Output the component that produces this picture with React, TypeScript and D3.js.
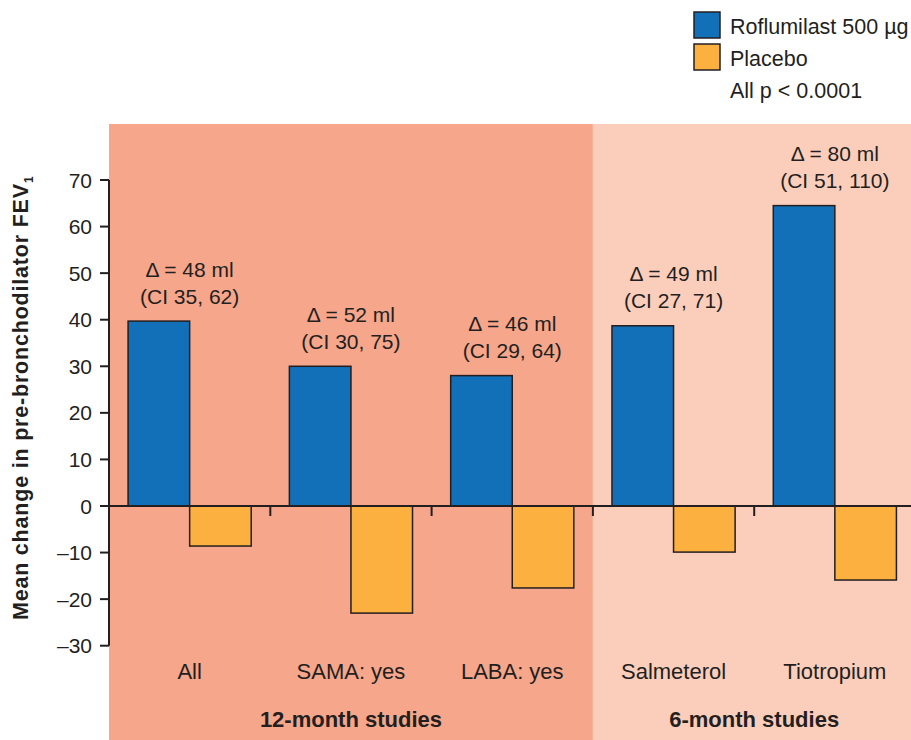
import React from "react";
import * as d3 from "d3";

const categories = ["All", "SAMA: yes", "LABA: yes", "Salmeterol", "Tiotropium"];
const series = ["Roflumilast 500 µg", "Placebo"];
const roflumilast = [39.7, 30, 28, 38.7, 64.5];
const placebo = [-8.6, -23, -17.6, -9.9, -15.9];
const deltaLabels = ["Δ = 48 ml", "Δ = 52 ml", "Δ = 46 ml", "Δ = 49 ml", "Δ = 80 ml"];
const ciLabels = ["(CI 35, 62)", "(CI 30, 75)", "(CI 29, 64)", "(CI 27, 71)", "(CI 51, 110)"];
const studyGroups = ["12-month studies", "6-month studies"];
const studyGroupSpans = [[0, 3], [3, 5]];
const yTicks = [-30, -20, -10, 0, 10, 20, 30, 40, 50, 60, 70];

const W = 911;
const H = 740;
const colors = ["#1170B8", "#FBB040"];
const bgColors = ["#F6A68B", "#FBCEBC"];
const ink = "#231F20";
const font = "'Liberation Sans', Arial, Helvetica, sans-serif";

export default function App() {
  const x0 = d3.scaleBand<string>().domain(categories).range([109, 109 + 161.3 * 5]).paddingInner(0).paddingOuter(0);
  const x1 = d3.scaleBand<string>().domain(series).range([0, x0.bandwidth()]).paddingOuter(0.31).paddingInner(0);
  const y = d3.scaleLinear().domain([-30, 70]).range([645.7, 180]);
  const values = [roflumilast, placebo];
  const y0 = y(0);

  return (
    <svg width={W} height={H} style={{ position: "absolute", left: 0, top: 0, background: "#fff" }} fontFamily={font}>
      {studyGroupSpans.map((s, i) => {
        const xs = x0(categories[s[0]])!;
        const xe = s[1] >= categories.length ? W : x0(categories[s[1]])!;
        return <rect key={"bg" + i} x={xs} y={124} width={xe - xs} height={H - 124} fill={bgColors[i]} />;
      })}
      {categories.map((c, i) =>
        series.map((s, j) => {
          const v = values[j][i];
          const bx = x0(c)! + x1(s)!;
          return (
            <rect
              key={c + s}
              x={bx}
              y={Math.min(y(v), y0)}
              width={x1.bandwidth()}
              height={Math.abs(y(v) - y0)}
              fill={colors[j]}
              stroke={ink}
              strokeWidth={1.5}
            />
          );
        })
      )}
      <line x1={109} x2={W} y1={y0} y2={y0} stroke={ink} strokeWidth={2} />
      {categories.slice(1).map((c) => (
        <line key={"t" + c} x1={x0(c)!} x2={x0(c)!} y1={y0} y2={y0 + 10} stroke={ink} strokeWidth={2} />
      ))}
      <line x1={109} x2={109} y1={y(70)} y2={y(-30)} stroke={ink} strokeWidth={2} />
      {yTicks.map((t) => (
        <g key={"y" + t}>
          <line x1={100} x2={109} y1={y(t)} y2={y(t)} stroke={ink} strokeWidth={2} />
          <text x={92} y={y(t)} dy="0.36em" textAnchor="end" fontSize={21} fill={ink}>
            {t < 0 ? "\u2013" + Math.abs(t) : t}
          </text>
        </g>
      ))}
      <text
        transform={`translate(28, ${(y(70) + y(-30)) / 2 - 15}) rotate(-90)`}
        textAnchor="middle"
        fontSize={21.5}
        fontWeight="bold"
        letterSpacing={0.8}
        fill={ink}
      >
        Mean change in pre-bronchodilator FEV
        <tspan fontSize={12} dy={5}>1</tspan>
      </text>
      {categories.map((c, i) => {
        const top = y(roflumilast[i]);
        const cx = x0(c)! + x0.bandwidth() / 2;
        return (
          <g key={"a" + c}>
            <text x={cx} y={top - 52} dy="0.36em" textAnchor="middle" fontSize={21} fill={ink}>
              {deltaLabels[i]}
            </text>
            <text x={cx} y={top - 25} dy="0.36em" textAnchor="middle" fontSize={21} fill={ink}>
              {ciLabels[i]}
            </text>
          </g>
        );
      })}
      {categories.map((c) => (
        <text key={"c" + c} x={x0(c)! + x0.bandwidth() / 2} y={671} dy="0.36em" textAnchor="middle" fontSize={22} fill={ink}>
          {c}
        </text>
      ))}
      {studyGroups.map((g, i) => {
        const s = studyGroupSpans[i];
        const xs = x0(categories[s[0]])!;
        const xe = x0(categories[s[1] - 1])! + x0.bandwidth();
        return (
          <text key={g} x={(xs + xe) / 2} y={719} dy="0.36em" textAnchor="middle" fontSize={22} fontWeight="bold" fill={ink}>
            {g}
          </text>
        );
      })}
      {series.map((s, j) => (
        <g key={"l" + s}>
          <rect x={694} y={12 + j * 32} width={26} height={26} fill={colors[j]} stroke={ink} strokeWidth={1.5} />
          <text x={730} y={26 + j * 32} dy="0.36em" fontSize={21.5} fill={ink}>
            {s}
          </text>
        </g>
      ))}
      <text x={730} y={90} dy="0.36em" fontSize={21.5} fill={ink}>
        All p &lt; 0.0001
      </text>
    </svg>
  );
}
